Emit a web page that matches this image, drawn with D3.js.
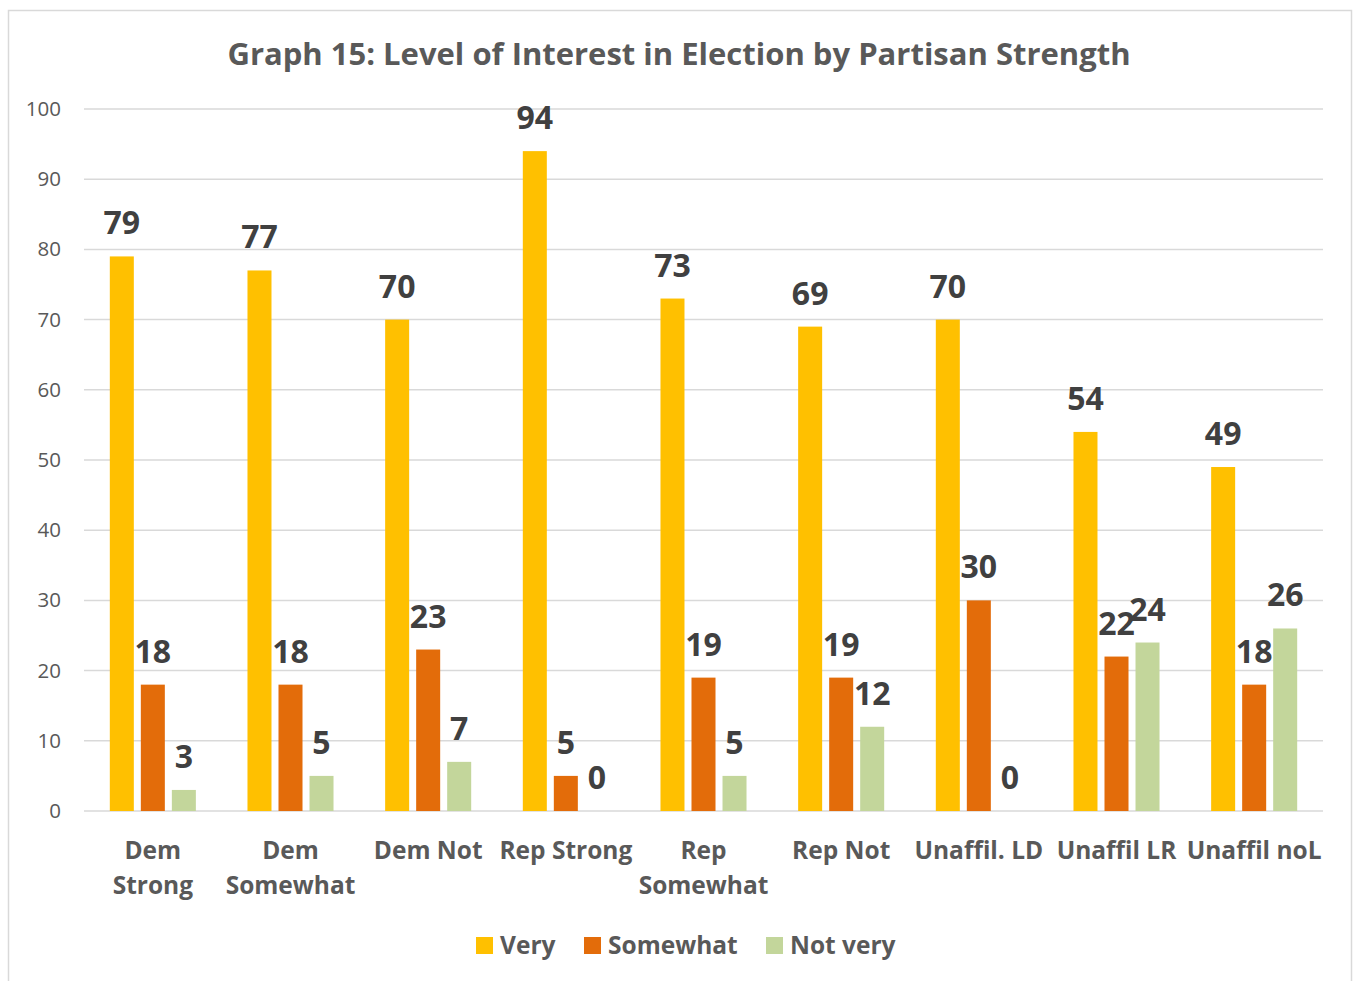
<!DOCTYPE html>
<html>
<head>
<meta charset="utf-8">
<script src="https://cdn.jsdelivr.net/npm/d3@7"></script>
<style>
  body { margin: 0; background: #fff; }
  text { font-family: "Open Sans", sans-serif; }
</style>
</head>
<body>
<div id="chart"></div>
<script>
// Data
var categories = [["Dem", "Strong"], ["Dem", "Somewhat"], ["Dem Not"], ["Rep Strong"],
  ["Rep", "Somewhat"], ["Rep Not"], ["Unaffil. LD"], ["Unaffil LR"], ["Unaffil noL"]];
var seriesNames = ["Very", "Somewhat", "Not very"];
var very = [79, 77, 70, 94, 73, 69, 70, 54, 49];
var somewhat = [18, 18, 23, 5, 19, 19, 30, 22, 18];
var notVery = [3, 5, 7, 0, 5, 12, 0, 24, 26];
var yTicks = [0, 10, 20, 30, 40, 50, 60, 70, 80, 90, 100];
var colors = ["#ffc000", "#e36c0a", "#c3d69b"];

var W = 1353, H = 981;
var svg = d3.select("#chart").append("svg").attr("width", W).attr("height", H);

// chart frame
svg.append("rect").attr("x", 8.5).attr("y", 10.5).attr("width", 1343).attr("height", 990)
  .attr("fill", "#fff").attr("stroke", "#d9d9d9").attr("stroke-width", 1.5);

var plotLeft = 84, plotRight = 1323, plotTop = 109, plotBottom = 811;

var x0 = d3.scaleBand().domain(d3.range(categories.length)).range([plotLeft, plotRight])
  .paddingInner(0.375).paddingOuter(0.1875);
var x1 = d3.scaleBand().domain(d3.range(seriesNames.length)).range([0, x0.bandwidth()])
  .paddingInner(0.226);
var y = d3.scaleLinear().domain([0, 100]).range([plotBottom, plotTop]);

// title
svg.append("text").attr("x", 679).attr("y", 65).attr("text-anchor", "middle")
  .attr("font-size", 31).attr("font-weight", "bold").attr("fill", "#595959")
  .text("Graph 15: Level of Interest in Election by Partisan Strength");

// gridlines
svg.append("g").selectAll("line").data(yTicks).enter().append("line")
  .attr("x1", plotLeft).attr("x2", plotRight)
  .attr("y1", function (d) { return y(d); }).attr("y2", function (d) { return y(d); })
  .attr("stroke", "#d9d9d9").attr("stroke-width", 1.5);

// y axis labels
svg.append("g").selectAll("text").data(yTicks).enter().append("text")
  .attr("x", 61).attr("y", function (d) { return y(d) + 7; })
  .attr("text-anchor", "end").attr("font-size", 20.5).attr("fill", "#595959")
  .text(function (d) { return d; });

var rows = categories.map(function (c, i) { return [very[i], somewhat[i], notVery[i]]; });

var groups = svg.append("g").selectAll("g").data(rows).enter().append("g")
  .attr("transform", function (d, i) { return "translate(" + x0(i) + ",0)"; });

groups.selectAll("rect").data(function (d) { return d; }).enter().append("rect")
  .attr("x", function (d, j) { return x1(j); })
  .attr("width", x1.bandwidth())
  .attr("y", function (d) { return y(d); })
  .attr("height", function (d) { return plotBottom - y(d); })
  .attr("fill", function (d, j) { return colors[j]; });

groups.selectAll("text").data(function (d) { return d; }).enter().append("text")
  .attr("x", function (d, j) { return x1(j) + x1.bandwidth() / 2; })
  .attr("y", function (d) { return y(d) - 22; })
  .attr("text-anchor", "middle").attr("font-size", 32).attr("font-weight", "bold")
  .attr("fill", "#404040")
  .text(function (d) { return d; });

// category labels
var catG = svg.append("g").selectAll("text").data(categories).enter().append("text")
  .attr("x", function (d, i) { return x0(i) + x0.bandwidth() / 2; })
  .attr("y", 859).attr("text-anchor", "middle")
  .attr("font-size", 24.5).attr("font-weight", "bold").attr("fill", "#595959");
catG.selectAll("tspan").data(function (d) { return d; }).enter().append("tspan")
  .attr("x", function () { return this.parentNode.getAttribute("x"); })
  .attr("dy", function (d, k) { return k === 0 ? 0 : 35; })
  .text(function (d) { return d; });

// legend
var legendX = [476, 584, 766];
var leg = svg.append("g").selectAll("g").data(seriesNames).enter().append("g")
  .attr("transform", function (d, i) { return "translate(" + legendX[i] + ",937)"; });
leg.append("rect").attr("width", 17).attr("height", 17)
  .attr("fill", function (d, i) { return colors[i]; });
leg.append("text").attr("x", 24).attr("y", 17).attr("font-size", 24.5)
  .attr("font-weight", "bold").attr("fill", "#595959")
  .text(function (d) { return d; });
</script>
</body>
</html>
